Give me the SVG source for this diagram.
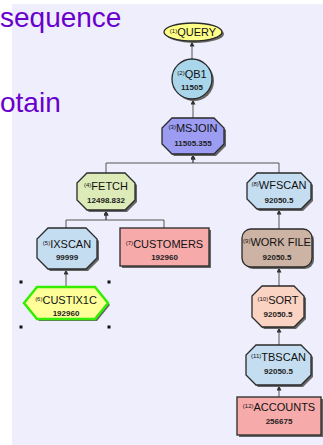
<svg xmlns="http://www.w3.org/2000/svg" width="323" height="445" viewBox="0 0 323 445">
<defs>
<marker id="ar" markerWidth="5" markerHeight="5" refX="5" refY="2.5" orient="auto" markerUnits="userSpaceOnUse"><path d="M0,0 L5,2.5 L0,5 z" fill="#333"/></marker>
<style>
.bg{fill:#EEEEFC}
.t{font-family:"Liberation Sans",Arial,sans-serif;font-size:28px;fill:#6A00CC}
.e{fill:none;stroke:#555;stroke-width:1;marker-end:url(#ar)}
.s{stroke:#2a2a2a;stroke-width:1.3}
.sh{fill:#666;stroke:none}
.lb{font-family:"Liberation Sans",Arial,sans-serif;font-size:11px;fill:#111;text-anchor:middle}
.sm{font-size:6px}
.num{font-family:"Liberation Sans",Arial,sans-serif;font-size:8px;font-weight:bold;fill:#222;text-anchor:middle}
.h{fill:#111}
</style>
</defs>
<rect class="bg" x="12" y="4" width="311" height="441"/>
<text class="t" x="0" y="27">sequence</text>
<text class="t" x="0" y="112">otain</text>

<g id="connectors">
<path class="e" d="M192,59 V41.5"/>
<path class="e" d="M193,118 V99.5"/>
<path class="e" d="M106,173 V163 H193 V154.5"/>
<path class="e" d="M279,173 V163 H193 V154.5"/>
<path class="e" d="M66,228 V220 H106 V210.5"/>
<path class="e" d="M164,228 V220 H106 V210.5"/>
<path class="e" d="M279,229 V209.5"/>
<path class="e" d="M66,287 V269.5"/>
<path class="e" d="M279,286 V267.5"/>
<path class="e" d="M279,345 V327.5"/>
<path class="e" d="M279,397 V385.5"/>
</g>

<g id="n1">
<ellipse class="sh" cx="195" cy="34" rx="29" ry="9"/>
<ellipse class="s" cx="193" cy="32" rx="29" ry="9" fill="#FFFF88"/>
<text class="lb" x="193" y="36"><tspan class="sm" dy="-3">(1)</tspan><tspan dy="3">QUERY</tspan></text>
</g>

<g id="n2">
<circle class="sh" cx="194" cy="81" r="20"/>
<circle class="s" cx="192" cy="79" r="20" fill="#A9D6EA"/>
<text class="lb" x="192" y="78"><tspan class="sm" dy="-3">(2)</tspan><tspan dy="3">QB1</tspan></text>
<text class="num" x="192" y="90">11505</text>
</g>

<g id="n3">
<polygon class="sh" transform="translate(2,2)" points="172,118 214,118 224,128 224,144 214,154 172,154 162,144 162,128"/>
<polygon class="s" fill="#9C9CF2" points="172,118 214,118 224,128 224,144 214,154 172,154 162,144 162,128"/>
<text class="lb" x="193" y="132"><tspan class="sm" dy="-3">(3)</tspan><tspan dy="3">MSJOIN</tspan></text>
<text class="num" x="193" y="146">11505.355</text>
</g>

<g id="n4">
<polygon class="sh" transform="translate(2,2)" points="87,173 125,173 135,183 135,200 125,210 87,210 77,200 77,183"/>
<polygon class="s" fill="#DDEBB9" points="87,173 125,173 135,183 135,200 125,210 87,210 77,200 77,183"/>
<text class="lb" x="106" y="190"><tspan class="sm" dy="-3">(4)</tspan><tspan dy="3">FETCH</tspan></text>
<text class="num" x="106" y="203">12498.832</text>
</g>

<g id="n8">
<polygon class="sh" transform="translate(2,2)" points="257,173 301,173 311,183 311,199 301,209 257,209 247,199 247,183"/>
<polygon class="s" fill="#C5DDF0" points="257,173 301,173 311,183 311,199 301,209 257,209 247,199 247,183"/>
<text class="lb" x="279" y="189"><tspan class="sm" dy="-3">(8)</tspan><tspan dy="3">WFSCAN</tspan></text>
<text class="num" x="279" y="203">92050.5</text>
</g>

<g id="n9">
<rect class="sh" x="244" y="231" width="70" height="38" rx="9"/>
<rect class="s" x="242" y="229" width="70" height="38" rx="9" fill="#CDB3A3"/>
<text class="lb" x="277" y="246"><tspan class="sm" dy="-3">(9)</tspan><tspan dy="3">WORK FILE</tspan></text>
<text class="num" x="277" y="260">92050.5</text>
</g>

<g id="n5">
<polygon class="sh" transform="translate(2,2)" points="48,228 86,228 97,239 97,258 86,269 48,269 37,258 37,239"/>
<polygon class="s" fill="#C5DDF0" points="48,228 86,228 97,239 97,258 86,269 48,269 37,258 37,239"/>
<text class="lb" x="67" y="248"><tspan class="sm" dy="-3">(5)</tspan><tspan dy="3">IXSCAN</tspan></text>
<text class="num" x="67" y="260">99999</text>
</g>

<g id="n7">
<rect class="sh" x="122" y="230" width="89" height="38"/>
<rect class="s" x="120" y="228" width="89" height="38" fill="#F7AAAA"/>
<text class="lb" x="164.5" y="248"><tspan class="sm" dy="-3">(7)</tspan><tspan dy="3">CUSTOMERS</tspan></text>
<text class="num" x="164.5" y="260">192960</text>
</g>

<g id="n6">
<polygon class="sh" transform="translate(2,2)" points="24,303 37,287 95,287 108,303 95,319 37,319"/>
<polygon fill="#FFFF99" stroke="#33EE00" stroke-width="2.5" points="24,303 37,287 95,287 108,303 95,319 37,319"/>
<text class="lb" x="66" y="304"><tspan class="sm" dy="-3">(6)</tspan><tspan dy="3">CUSTIX1C</tspan></text>
<text class="num" x="66" y="316">192960</text>
<rect class="h" x="19.5" y="280.5" width="3" height="3"/>
<rect class="h" x="107.5" y="280.5" width="3" height="3"/>
<rect class="h" x="19.5" y="325.5" width="3" height="3"/>
<rect class="h" x="107.5" y="325.5" width="3" height="3"/>
</g>

<g id="n10">
<polygon class="sh" transform="translate(2,2)" points="262,286 294,286 304,296 304,317 294,327 262,327 252,317 252,296"/>
<polygon class="s" fill="#FBD3C3" points="262,286 294,286 304,296 304,317 294,327 262,327 252,317 252,296"/>
<text class="lb" x="278" y="304"><tspan class="sm" dy="-3">(10)</tspan><tspan dy="3">SORT</tspan></text>
<text class="num" x="278" y="317">92050.5</text>
</g>

<g id="n11">
<polygon class="sh" transform="translate(2,2)" points="256,345 301,345 311,355 311,375 301,385 256,385 246,375 246,355"/>
<polygon class="s" fill="#C5DDF0" points="256,345 301,345 311,355 311,375 301,385 256,385 246,375 246,355"/>
<text class="lb" x="278.5" y="361"><tspan class="sm" dy="-3">(11)</tspan><tspan dy="3">TBSCAN</tspan></text>
<text class="num" x="278.5" y="374">92050.5</text>
</g>

<g id="n12">
<rect class="sh" x="239" y="399" width="84" height="38"/>
<rect class="s" x="237" y="397" width="84" height="38" fill="#F7AAAA"/>
<text class="lb" x="279" y="411"><tspan class="sm" dy="-3">(12)</tspan><tspan dy="3">ACCOUNTS</tspan></text>
<text class="num" x="279" y="424">256675</text>
</g>
</svg>
